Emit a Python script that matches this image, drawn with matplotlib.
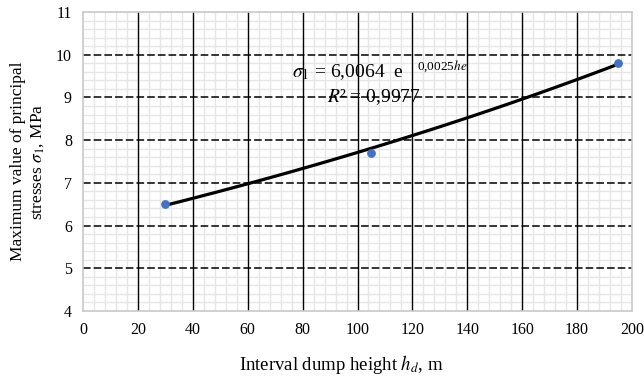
import numpy as np
import matplotlib.pyplot as plt
from matplotlib.ticker import MultipleLocator

plt.rcParams['font.family'] = 'Liberation Serif'
plt.rcParams['mathtext.fontset'] = 'stix'

# measured points
heights = [30, 105, 195]
stresses = [6.5, 7.7, 9.8]

# exponential trend line coefficients
coef_a = 6.0064
coef_b = 0.0025
r2_text = "0,9977"

fig = plt.figure(figsize=(6.44, 3.8), dpi=100)
ax = fig.add_axes([83/644, 1 - 311/380, (632-83)/644, (311-12)/380])

ax.set_xlim(0, 200)
ax.set_ylim(4, 11)
ax.xaxis.set_major_locator(MultipleLocator(20))
ax.xaxis.set_minor_locator(MultipleLocator(4))
ax.yaxis.set_major_locator(MultipleLocator(1))
ax.yaxis.set_minor_locator(MultipleLocator(0.2))

# light minor grid underneath, major lines drawn on top of it
ax.grid(which='minor', color='#e6e6e6', linewidth=1.0, zorder=0)
for xv in np.arange(20, 200, 20):
    ax.axvline(xv, color='black', linewidth=1.0, zorder=1)
for yv in np.arange(5, 11, 1):
    ax.axhline(yv, color='black', linewidth=1.1, linestyle=(0, (5, 2)), zorder=1)
ax.set_axisbelow(True)

for s in ax.spines.values():
    s.set_color('#c8c8c8')
    s.set_linewidth(1.2)
ax.tick_params(which='both', length=0, labelsize=11.5, pad=8)

xs = np.linspace(heights[0], heights[-1], 100)
ax.plot(xs, coef_a * np.exp(coef_b * xs), color='black', linewidth=2.3, zorder=3)
ax.scatter(heights, stresses, color='#4472c4', s=28, zorder=4)

ax.text(76, 9.47, r"$\sigma_1$ = 6,0064  e", fontsize=14, zorder=5)
ax.text(121.5, 9.66, r"0,0025$he$", fontsize=9.5, zorder=5)
ax.text(89, 8.88, r"$R$² = " + r2_text, fontsize=14, zorder=5)

ax.set_xlabel(r"Interval dump height $h_d$, m", fontsize=13.5)
ax.xaxis.set_label_coords(0.47, -0.14)
ax.set_ylabel("Maximum value of principal\nstresses $\\sigma_1$, MPa", fontsize=12.5,
              labelpad=7, linespacing=1.25)

fig.savefig('out.png', dpi=100)
